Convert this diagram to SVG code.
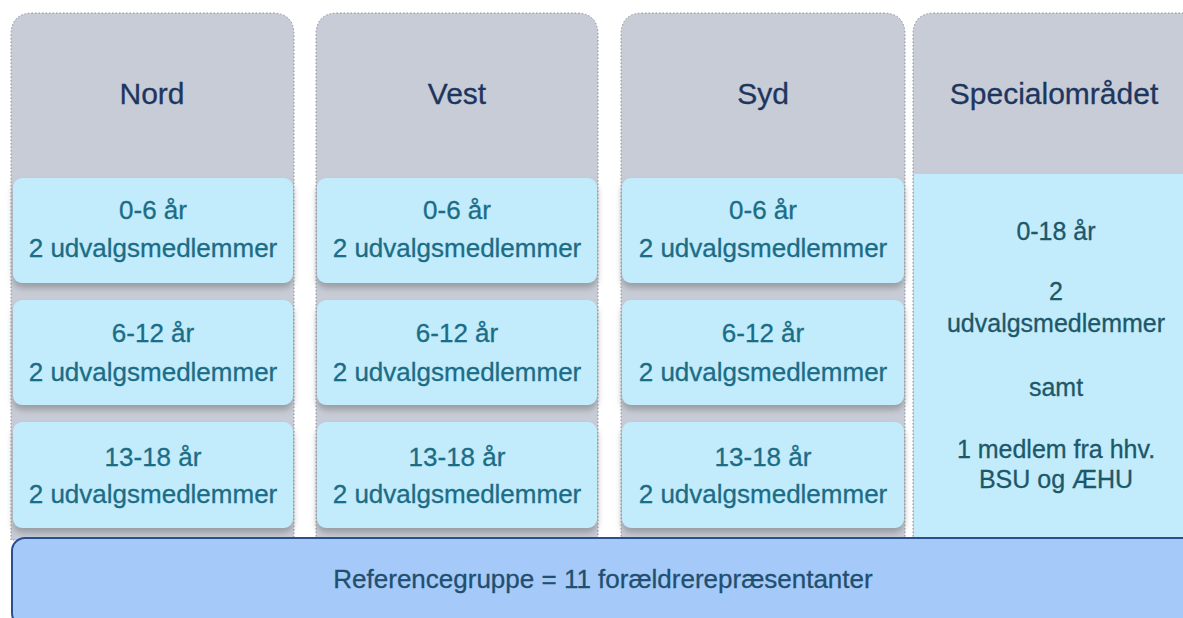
<svg xmlns="http://www.w3.org/2000/svg" width="1183" height="618" viewBox="0 0 1183 618">
<defs>
<style>
.col{fill:#c8ccd6;stroke:#8a8f99;stroke-width:1;stroke-dasharray:1.5 2}
.box{fill:#c2ebfc;filter:url(#sh)}
.hd{font-family:"Liberation Sans",Arial,sans-serif;font-size:30px;fill:#1c3660;text-anchor:middle;stroke:#1c3660;stroke-width:0.3}
.tx{font-family:"Liberation Sans",Arial,sans-serif;font-size:26px;fill:#1b6d86;text-anchor:middle;stroke:#1b6d86;stroke-width:0.3}
.sp{font-family:"Liberation Sans",Arial,sans-serif;font-size:25px;fill:#1d5868;text-anchor:middle;stroke:#1d5868;stroke-width:0.3}
.bt{font-family:"Liberation Sans",Arial,sans-serif;font-size:26px;fill:#214f6d;text-anchor:middle;stroke:#214f6d;stroke-width:0.3}
</style>
<filter id="sh" x="-5%" y="-10%" width="110%" height="130%">
<feDropShadow dx="0" dy="5" stdDeviation="3" flood-color="#8e9196" flood-opacity="0.8"/>
</filter>
</defs>
<rect width="1183" height="618" fill="#ffffff"/>

<g id="nord">
<path class="col" d="M11,540 V35 Q11,13 33,13 H272 Q294,13 294,35 V540 Z"/>
<text class="hd" x="152" y="104">Nord</text>
<rect class="box" x="13" y="178" width="280" height="105" rx="9"/>
<text class="tx" x="153" y="219">0-6 år</text>
<text class="tx" x="153" y="257">2 udvalgsmedlemmer</text>
<rect class="box" x="13" y="300" width="280" height="105" rx="9"/>
<text class="tx" x="153" y="342">6-12 år</text>
<text class="tx" x="153" y="381">2 udvalgsmedlemmer</text>
<rect class="box" x="13" y="422" width="280" height="106" rx="9"/>
<text class="tx" x="153" y="466">13-18 år</text>
<text class="tx" x="153" y="503">2 udvalgsmedlemmer</text>
</g>

<g id="vest">
<path class="col" d="M316,540 V35 Q316,13 338,13 H576 Q598,13 598,35 V540 Z"/>
<text class="hd" x="457" y="104">Vest</text>
<rect class="box" x="317" y="178" width="280" height="105" rx="9"/>
<text class="tx" x="457" y="219">0-6 år</text>
<text class="tx" x="457" y="257">2 udvalgsmedlemmer</text>
<rect class="box" x="317" y="300" width="280" height="105" rx="9"/>
<text class="tx" x="457" y="342">6-12 år</text>
<text class="tx" x="457" y="381">2 udvalgsmedlemmer</text>
<rect class="box" x="317" y="422" width="280" height="106" rx="9"/>
<text class="tx" x="457" y="466">13-18 år</text>
<text class="tx" x="457" y="503">2 udvalgsmedlemmer</text>
</g>

<g id="syd">
<path class="col" d="M621,540 V35 Q621,13 643,13 H883 Q905,13 905,35 V540 Z"/>
<text class="hd" x="763" y="104">Syd</text>
<rect class="box" x="622" y="178" width="282" height="105" rx="9"/>
<text class="tx" x="763" y="219">0-6 år</text>
<text class="tx" x="763" y="257">2 udvalgsmedlemmer</text>
<rect class="box" x="622" y="300" width="282" height="105" rx="9"/>
<text class="tx" x="763" y="342">6-12 år</text>
<text class="tx" x="763" y="381">2 udvalgsmedlemmer</text>
<rect class="box" x="622" y="422" width="282" height="106" rx="9"/>
<text class="tx" x="763" y="466">13-18 år</text>
<text class="tx" x="763" y="503">2 udvalgsmedlemmer</text>
</g>

<g id="special">
<path class="col" d="M913,540 V35 Q913,13 935,13 H1200 V540 Z"/>
<rect x="914" y="174" width="280" height="366" fill="#c2ebfc"/>
<text class="hd" x="1054" y="104">Specialområdet</text>
<text class="sp" x="1056" y="240">0-18 år</text>
<text class="sp" x="1056" y="300">2</text>
<text class="sp" x="1056" y="332">udvalgsmedlemmer</text>
<text class="sp" x="1056" y="396">samt</text>
<text class="sp" x="1056" y="458">1 medlem fra hhv.</text>
<text class="sp" x="1056" y="488">BSU og ÆHU</text>
</g>

<g id="referencegruppe">
<rect x="12" y="538" width="1190" height="88" rx="13" fill="#a5cafa" stroke="#2a4f8f" stroke-width="2"/>
<text class="bt" x="603" y="588">Referencegruppe = 11 forældrerepræsentanter</text>
</g>

<g id="connectors"></g>
</svg>
